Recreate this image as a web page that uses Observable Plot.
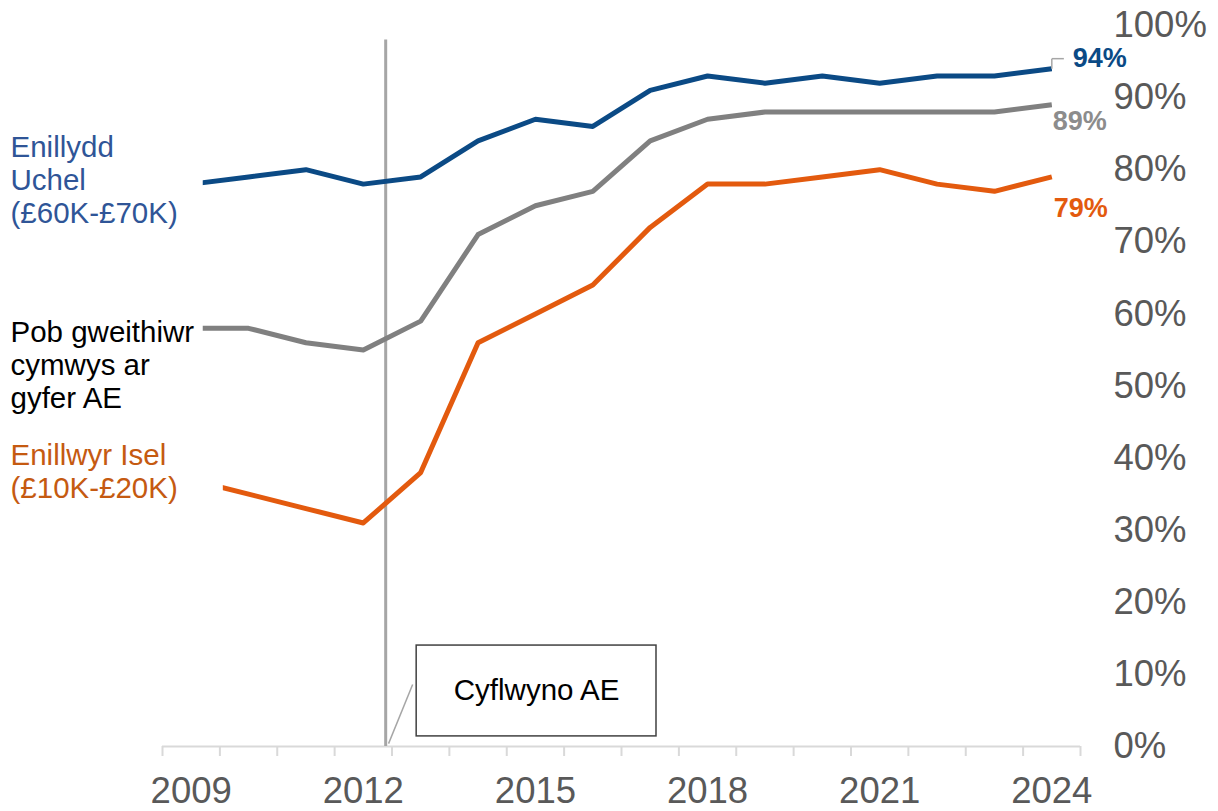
<!DOCTYPE html>
<html>
<head>
<meta charset="utf-8">
<script src="https://cdn.jsdelivr.net/npm/d3@7"></script>
<script src="https://cdn.jsdelivr.net/npm/@observablehq/plot@0.6"></script>
<style>
  html, body { margin: 0; padding: 0; background: #fff; }
  #chart svg { display: block; }
</style>
</head>
<body>
<div id="chart"></div>
<script>
// ---- Data ----
const years = [2009, 2010, 2011, 2012, 2013, 2014, 2015, 2016, 2017, 2018, 2019, 2020, 2021, 2022, 2023, 2024];
const highEarners = [78, 79, 80, 78, 79, 84, 87, 86, 91, 93, 92, 93, 92, 93, 93, 94];
const allWorkers  = [58, 58, 56, 55, 59, 71, 75, 77, 84, 87, 88, 88, 88, 88, 88, 89];
const lowEarners  = [37, 35, 33, 31, 38, 56, 60, 64, 72, 78, 78, 79, 80, 78, 77, 79];
const xTickLabels = [2009, 2012, 2015, 2018, 2021, 2024];
const yTicks = [0, 10, 20, 30, 40, 50, 60, 70, 80, 90, 100];

const seriesNames = ["Enillydd Uchel (£60K-£70K)", "Pob gweithiwr cymwys ar gyfer AE", "Enillwyr Isel (£10K-£20K)"];
const seriesValues = [highEarners, allWorkers, lowEarners];
const seriesColors = ["#0b4a85", "#808080", "#e35a0e"];
const labelColors  = ["#2f5597", "#000000", "#c55a11"];
const endColors    = ["#0b4a85", "#8c8c8c", "#e35a0e"];

// label texts (left)
const leftLabels = [
  {text: "Enillydd\nUchel\n(£60K-£70K)", y: 78.6, color: labelColors[0]},
  {text: "Pob gweithiwr\ncymwys ar\ngyfer AE", y: 53.0, color: labelColors[1]},
  {text: "Enillwyr Isel\n(£10K-£20K)", y: 38.2, color: labelColors[2]}
];
// boxes behind left labels (hide start of lines)
const labelBoxes = [
  {x2: 2009.21, y1: 70, y2: 86},
  {x2: 2009.21, y1: 46, y2: 61},
  {x2: 2009.56, y1: 33, y2: 43}
];

// AE introduction
const aeYear = 2012.39;
const aeTop = 98;
const aeBox = {x1: 2012.93, x2: 2017.11, y1: 1.4, y2: 14.0, text: "Cyflwyno AE"};
const aeLeader = {x1: 2012.44, y1: 0.4, x2: 2012.86, y2: 8.6};

// Build tidy table
const rows = [];
seriesNames.forEach((s, i) => years.forEach((yr, j) => rows.push({series: s, idx: i, year: yr, value: seriesValues[i][j]})));
const lastRows = seriesNames.map((s, i) => ({series: s, idx: i, year: years[years.length - 1], value: seriesValues[i][years.length - 1]}));
const boundaries = years.map(y => y - 0.5).concat([years[years.length - 1] + 0.5]);

const FONT = "'Liberation Sans', Arial, sans-serif";

const chart = Plot.plot({
  width: 1218,
  height: 811,
  marginLeft: 162,
  marginRight: 138,
  marginTop: 25,
  marginBottom: 65,
  style: {fontFamily: FONT, background: "#fff"},
  x: {domain: [2008.5, 2024.5]},
  y: {domain: [0, 100]},
  color: {domain: seriesNames, range: seriesColors},
  marks: [
    // x-axis baseline
    Plot.ruleY([0], {stroke: "#d9d9d9", strokeWidth: 2}),
    // boundary tick marks
    Plot.axisX(boundaries, {tickSize: 10, tickFormat: () => "", stroke: "#d9d9d9", strokeWidth: 2}),
    // x labels
    Plot.axisX(xTickLabels, {tickSize: 0, tickPadding: 31, tickFormat: d => String(d), fontSize: 36.5, fill: "#595959"}),
    // y labels (right)
    Plot.axisY(yTicks, {anchor: "right", tickSize: 0, tickPadding: 33, tickFormat: d => d + "%", fontSize: 36.5, fill: "#595959", textAnchor: "start"}),
    // AE vertical line
    Plot.ruleX([aeYear], {y1: 0, y2: aeTop, stroke: "#a6a6a6", strokeWidth: 3}),
    // leader line to annotation
    Plot.link([aeLeader], {x1: "x1", y1: "y1", x2: "x2", y2: "y2", stroke: "#a6a6a6", strokeWidth: 1.5}),
    // series lines
    Plot.line(rows, {x: "year", y: "value", z: "series", stroke: "series", strokeWidth: 5, strokeLinejoin: "round", strokeLinecap: "butt"}),
    // white boxes behind left labels
    Plot.rect(labelBoxes, {x1: 2008.5, x2: "x2", y1: "y1", y2: "y2", fill: "#fff", insetLeft: -160}),
    // left labels
    Plot.text(leftLabels, {x: 2008.5, y: "y", text: "text", fill: "color", dx: -152, textAnchor: "start", lineAnchor: "middle", lineHeight: 1.12, fontSize: 29.5}),
    // annotation box
    Plot.rect([aeBox], {x1: "x1", x2: "x2", y1: "y1", y2: "y2", fill: "#fff", stroke: "#404040", strokeWidth: 1.5}),
    Plot.text([aeBox], {x: d => (d.x1 + d.x2) / 2, y: d => (d.y1 + d.y2) / 2, text: "text", fontSize: 29.5, fill: "#000"}),
    // leader for 94%
    Plot.link([lastRows[0]], {x1: "year", y1: "value", x2: "year", y2: d => d.value + 1.4, stroke: "#a6a6a6", strokeWidth: 1.5}),
    Plot.link([lastRows[0]], {x1: "year", y1: d => d.value + 1.4, x2: d => d.year + 0.21, y2: d => d.value + 1.4, stroke: "#a6a6a6", strokeWidth: 1.5}),
    // end labels
    Plot.text([lastRows[0]], {x: "year", y: "value", text: d => d.value + "%", fill: endColors[0], fontWeight: "bold", fontSize: 27, textAnchor: "start", dx: 21, dy: -10}),
    Plot.text([lastRows[1]], {x: "year", y: "value", text: d => d.value + "%", fill: endColors[1], fontWeight: "bold", fontSize: 27, textAnchor: "start", dx: 1, dy: 17}),
    Plot.text([lastRows[2]], {x: "year", y: "value", text: d => d.value + "%", fill: endColors[2], fontWeight: "bold", fontSize: 27, textAnchor: "start", dx: 2, dy: 31})
  ]
});
document.getElementById("chart").appendChild(chart);
</script>
</body>
</html>
